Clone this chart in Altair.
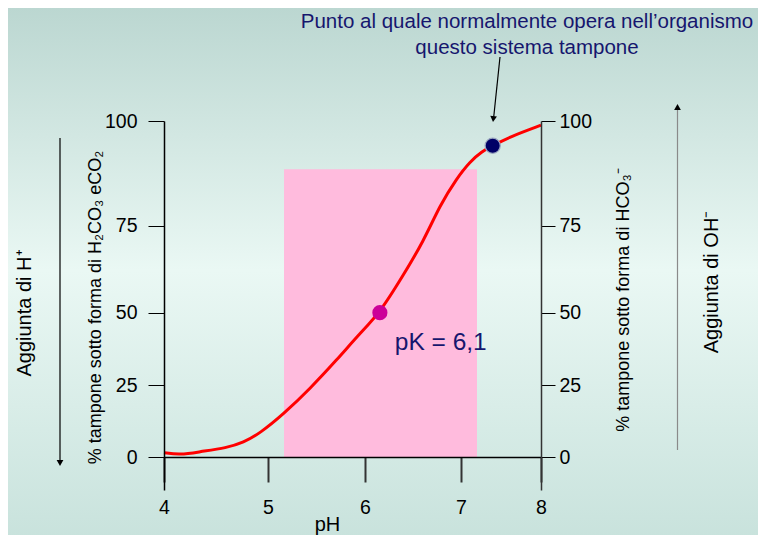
import altair as alt
import pandas as pd

# ---- data ----
ph = [4.0, 4.154, 4.346, 4.603, 4.763, 4.923, 5.158, 5.433, 5.708, 5.948, 6.156,
      6.399, 6.607, 6.781, 6.955, 7.113, 7.259, 7.396, 7.613, 8.0]
pct = [1.5, 0.7, 1.85, 3.2, 5.0, 8.3, 14.9, 23.8, 33.7, 42.9, 50.0,
       60.8, 70.4, 79.9, 86.3, 90.3, 92.7, 94.1, 96.25, 99.0]

band_x = [5.165]
band_x2 = [7.2]
band_y = [0]
band_y2 = [88.5]

pk_point_x = [6.155]
pk_point_y = [50]
normal_point_x = [7.396]
normal_point_y = [94.1]

pk_label = ["pK = 6,1"]
pk_label_x = [6.31]
pk_label_y = [39.6]

x_ticks = [4, 5, 6, 7, 8]
y_ticks = [0, 25, 50, 75, 100]

title_lines = ["Punto al quale normalmente opera nell\u2019organismo", "questo sistema tampone"]
left_title = "% tampone sotto forma di H\u2082CO\u2083 eCO\u2082"
right_title = "% tampone sotto forma di  HCO\u2083\u207b"
left_arrow_label = "Aggiunta di H\u207a"
right_arrow_label = "Aggiunta di OH\u207b"

FONT = "Liberation Sans"
NAVY = "#16166e"

# scales (piecewise, as the original slide is hand drawn)
xs = alt.Scale(domain=[4, 5, 6, 7, 8], range=[0, 104, 201, 297, 377], nice=False, zero=False)
ys = alt.Scale(domain=[-11.5, 0, 25, 50, 75, 100], range=[369, 336, 264.3, 191.7, 104.7, 0],
               nice=False, zero=False)

x_axis = alt.Axis(
    values=x_ticks, title="pH", offset=-33, tickSize=25, labelPadding=16,
    labelFlush=False, labelOverlap=False,
    domainColor="#000000", tickColor="#333333", tickWidth=2, domainWidth=1.5,
    labelFontSize=19.5, labelColor="#000000", labelFont=FONT, grid=False,
    titleFont=FONT, titleFontSize=20, titleFontWeight="normal", titleColor="#000000",
    titleX=163, titleY=67, titleBaseline="middle", titleAlign="center", zindex=2)

curve_df = pd.DataFrame({"pH": ph, "pct": pct})
band_df = pd.DataFrame({"x": band_x, "x2": band_x2, "y": band_y, "y2": band_y2})
pk_df = pd.DataFrame({"x": pk_point_x, "y": pk_point_y})
norm_df = pd.DataFrame({"x": normal_point_x, "y": normal_point_y})
pklab_df = pd.DataFrame({"x": pk_label_x, "y": pk_label_y, "t": pk_label})
one = pd.DataFrame({"a": [0]})

bg = alt.Chart(one).mark_rect(
    color=alt.LinearGradient(
        gradient="linear",
        stops=[alt.GradientStop(color="#bad6d0", offset=0),
               alt.GradientStop(color="#eaf8f4", offset=0.5),
               alt.GradientStop(color="#c8e2dc", offset=1)],
        x1=0, x2=0, y1=0, y2=1)
).encode(x=alt.value(-164), x2=alt.value(600), y=alt.value(-121), y2=alt.value(420))

band = alt.Chart(band_df).mark_rect(color="#ffbbdd").encode(
    x=alt.X("x:Q", scale=xs, axis=x_axis),
    x2="x2:Q",
    y=alt.Y("y:Q", scale=ys, axis=None),
    y2="y2:Q",
)

curve = alt.Chart(curve_df).mark_line(color="#ff0000", strokeWidth=3, interpolate="basis").encode(
    x=alt.X("pH:Q", scale=xs, axis=x_axis),
    y=alt.Y("pct:Q", scale=ys, axis=alt.Axis(
        orient="left", values=y_ticks, title=left_title, tickSize=16, labelPadding=11,
        domainColor="#000000", tickColor="#000000", domainWidth=1.5,
        labelFontSize=19.5, labelColor="#000000", labelFont=FONT, grid=False,
        titleFont=FONT, titleFontSize=18, titleFontWeight="normal", titleColor="#000000",
        titleAngle=270, titleX=-69, titleY=186, titleBaseline="middle", titleAlign="center",
        zindex=2)),
)

pk_pt = alt.Chart(pk_df).mark_circle(color="#cc0099", size=230, opacity=1).encode(
    x=alt.X("x:Q", scale=xs, axis=x_axis),
    y=alt.Y("y:Q", scale=ys, axis=alt.Axis(
        orient="right", values=y_ticks, title=right_title, tickSize=14, labelPadding=4,
        domainColor="#333333", tickColor="#000000", domainWidth=1.5,
        labelFontSize=19.5, labelColor="#000000", labelFont=FONT, grid=False,
        titleFont=FONT, titleFontSize=18, titleFontWeight="normal", titleColor="#000000",
        titleAngle=270, titleX=82, titleY=178.5, titleBaseline="middle", titleAlign="center",
        zindex=2)),
)

norm_pt = alt.Chart(norm_df).mark_point(
    shape="circle", filled=True, fill="#000066", stroke="#9aa6c0", strokeWidth=1.2,
    size=230, opacity=1
).encode(
    x=alt.X("x:Q", scale=xs, axis=x_axis),
    y=alt.Y("y:Q", scale=ys, axis=None),
)

pk_text = alt.Chart(pklab_df).mark_text(
    font=FONT, fontSize=24.5, color=NAVY, align="left", baseline="middle"
).encode(
    x=alt.X("x:Q", scale=xs, axis=x_axis),
    y=alt.Y("y:Q", scale=ys, axis=None),
    text="t:N",
)

# decorative arrows and labels (outside the plot area)
def rule(x, y, x2, y2, color="#000000", w=1.2):
    return alt.Chart(one).mark_rule(color=color, strokeWidth=w).encode(
        x=alt.value(x), y=alt.value(y), x2=alt.value(x2), y2=alt.value(y2))

def head(x, y, shape, angle=0, color="#000000"):
    return alt.Chart(one).mark_point(shape=shape, filled=True, color=color, size=45,
                                     opacity=1, angle=angle).encode(
        x=alt.value(x), y=alt.value(y))

def label(txt, x, y, size, color="#000000", angle=0):
    return alt.Chart(one).mark_text(text=txt, font=FONT, fontSize=size, color=color,
                                    align="center", baseline="middle", angle=angle).encode(
        x=alt.value(x), y=alt.value(y))

left_arrow = rule(-104, 17, -104, 340) + head(-104, 342, "triangle-down")
right_arrow = rule(513.5, -12, 513.5, 329, color="#8a8a8a") + head(513.5, -14, "triangle-up")
ann_arrow = rule(336, -64, 329.5, -2) + head(329.3, -2, "triangle-down", angle=6)

texts = (
    label(left_arrow_label, -139, 192, 20, angle=270)
    + label(right_arrow_label, 548, 161, 20, angle=270)
    + label(title_lines[0], 363, -99, 20.5, color=NAVY)
    + label(title_lines[1], 363, -73, 20.5, color=NAVY)
)

chart = alt.layer(
    bg, band, curve, pk_pt, norm_pt, pk_text, left_arrow, right_arrow, ann_arrow, texts
).resolve_axis(y="independent").properties(
    width=377, height=369, autosize=alt.AutoSizeParams(type="none"),
    padding={"left": 156, "top": 113, "right": 217, "bottom": 45},
    background="#e6f4f0",
).configure_view(stroke=None)

chart.save("out.html", embed_options={"renderer": "svg", "actions": False})
